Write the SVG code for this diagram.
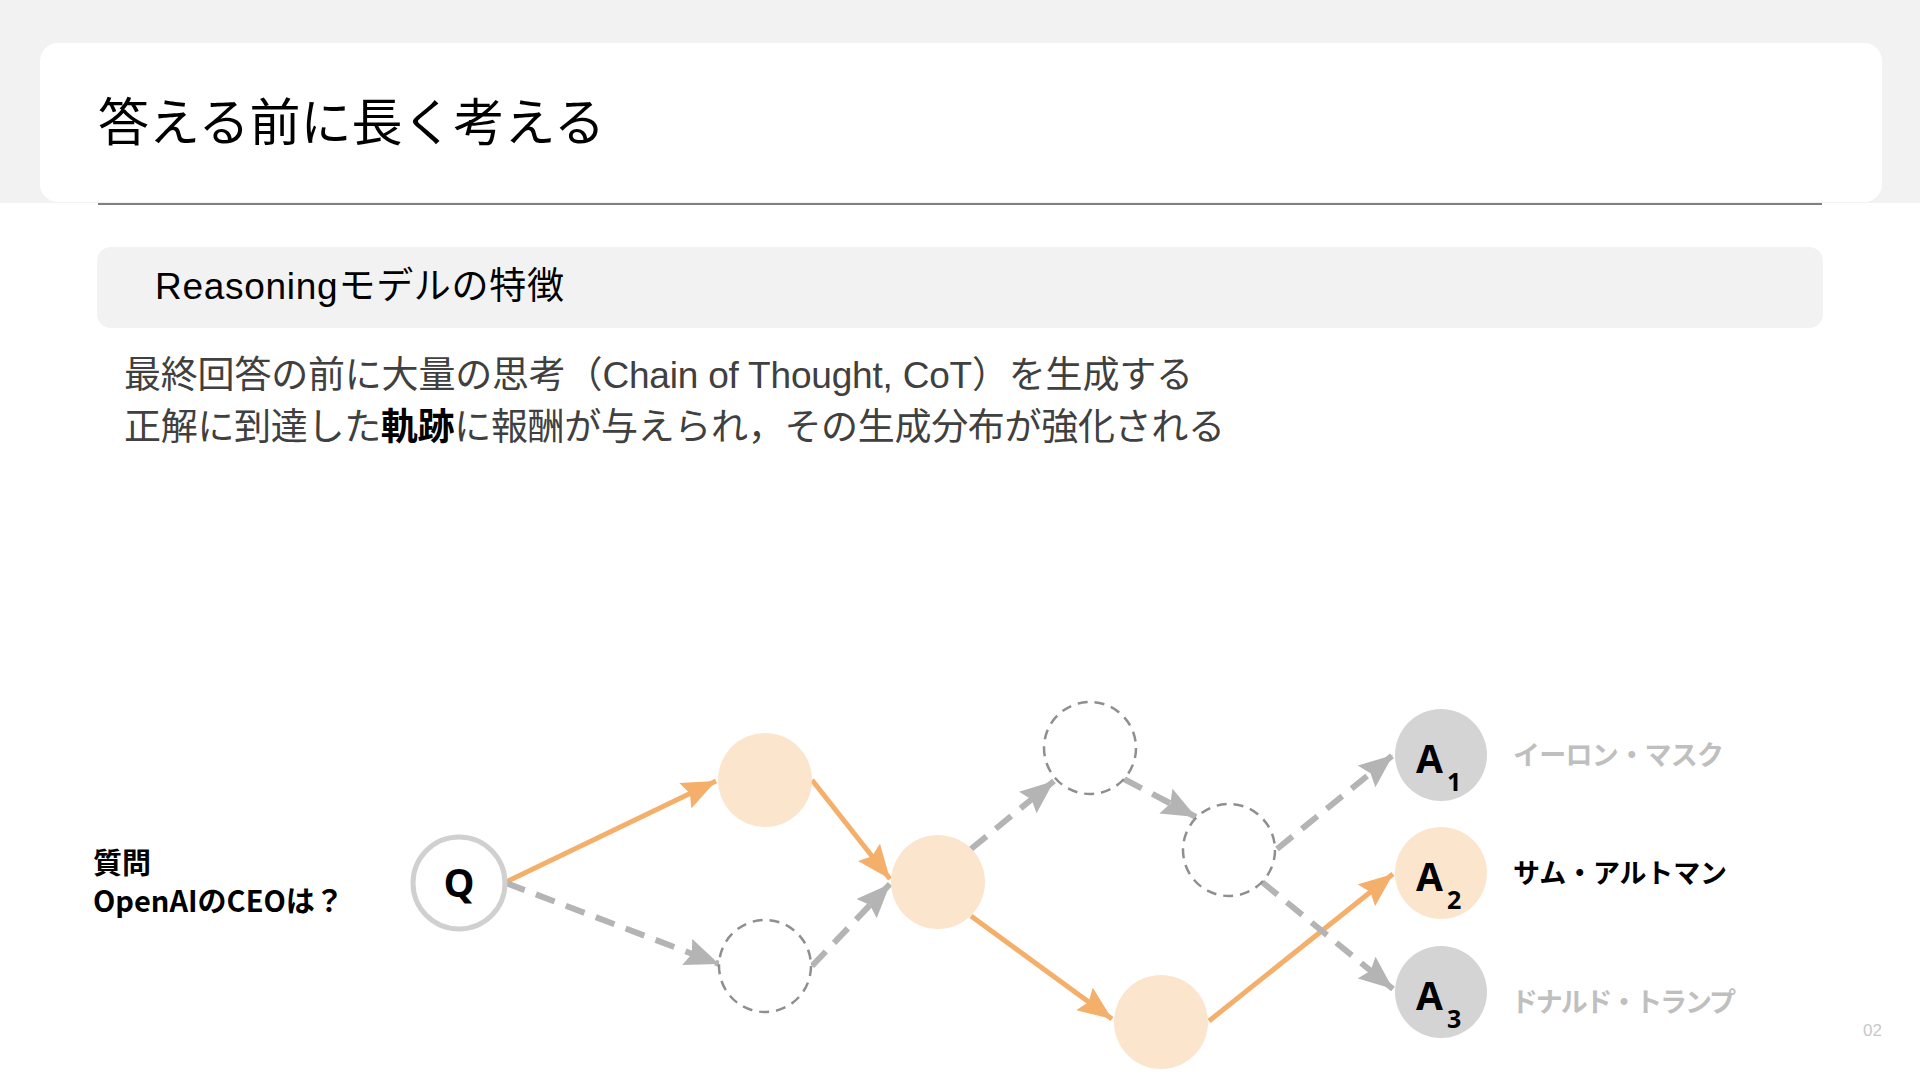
<svg xmlns="http://www.w3.org/2000/svg" width="1920" height="1080" viewBox="0 0 1920 1080">
<defs>
<style>
.jp{font-family:"Liberation Sans","Noto Sans CJK JP",sans-serif;}
.b{font-family:"Noto Sans CJK JP","Noto Sans",sans-serif;font-weight:700;}
.sol{fill:#fce5cd;}
.gry{fill:#d4d4d4;}
.dash{fill:#fff;stroke:#8f8f8f;stroke-width:2.5;stroke-dasharray:10 7;}
.o{stroke:#f4b06b;stroke-width:5;fill:none;marker-end:url(#ao);}
.g{stroke:#b4b4b4;stroke-width:6;fill:none;stroke-dasharray:20 12;marker-end:url(#ag);}
.lbl{font-family:"Open Sans","Noto Sans",sans-serif;font-weight:700;font-size:39px;fill:#000;}
.sub{font-family:"Open Sans","Noto Sans",sans-serif;font-weight:700;font-size:25px;fill:#000;}
</style>
<marker id="ao" viewBox="0 0 34 28" refX="34" refY="14" markerWidth="34" markerHeight="28" markerUnits="userSpaceOnUse" orient="auto">
<path d="M0,0 L34,14 L0,28 L5,14 Z" fill="#f4b06b"/>
</marker>
<marker id="ag" viewBox="0 0 34 28" refX="34" refY="14" markerWidth="34" markerHeight="28" markerUnits="userSpaceOnUse" orient="auto">
<path d="M0,0 L34,14 L0,28 L5,14 Z" fill="#b4b4b4"/>
</marker>
</defs>
<rect x="0" y="0" width="1920" height="1080" fill="#fff"/>
<rect x="0" y="0" width="1920" height="203" fill="#f2f2f2"/>
<g id="title">
<rect x="40" y="43" width="1842" height="159" rx="18" fill="#fff"/>
<text x="98" y="141" class="jp" font-size="51" fill="#000">答える前に長く考える</text>
</g>
<line x1="98" y1="204" x2="1822" y2="204" stroke="#808080" stroke-width="2"/>
<g id="section">
<rect x="97" y="247" width="1726" height="81" rx="14" fill="#f2f2f2"/>
<text x="155" y="299" class="jp" font-size="37" fill="#000" textLength="409" lengthAdjust="spacing">Reasoningモデルの特徴</text>
</g>
<g id="body" class="jp" font-size="37" fill="#404040">
<text x="124" y="388" textLength="1069" lengthAdjust="spacing">最終回答の前に大量の思考（Chain of Thought, CoT）を生成する</text>
<text x="124" y="440" textLength="1101" lengthAdjust="spacing">正解に到達した<tspan font-weight="700" fill="#000">軌跡</tspan>に報酬が与えられ，その生成分布が強化される</text>
</g>
<g id="question" class="b" font-size="29" fill="#000">
<text x="93" y="874">質問</text>
<text x="93" y="912">OpenAIのCEOは？</text>
</g>
<g id="connectors">
<line class="o" x1="506" y1="882" x2="716" y2="781"/>
<line class="o" x1="812" y1="780" x2="890" y2="879"/>
<line class="o" x1="971" y1="916" x2="1112" y2="1019"/>
<line class="o" x1="1209" y1="1021" x2="1393" y2="874"/>
<line class="g" x1="506" y1="883" x2="719" y2="964"/>
<line class="g" x1="812" y1="966" x2="890" y2="884"/>
<line class="g" x1="971" y1="849" x2="1054" y2="781"/>
<line class="g" x1="1124" y1="779" x2="1196" y2="817"/>
<line class="g" x1="1277" y1="849" x2="1393" y2="755"/>
<line class="g" x1="1262" y1="882" x2="1393" y2="989"/>
</g>
<g id="nodeQ">
<circle cx="459" cy="883" r="46" fill="#fff" stroke="#d0d0d0" stroke-width="5"/>
<text x="459" y="897" class="lbl" text-anchor="middle">Q</text>
</g>
<g id="n1"><circle cx="765" cy="780" r="47" class="sol"/></g>
<g id="n2"><circle cx="765" cy="966" r="46" class="dash"/></g>
<g id="n3"><circle cx="938" cy="882" r="47" class="sol"/></g>
<g id="n4"><circle cx="1090" cy="748" r="46" class="dash"/></g>
<g id="n5"><circle cx="1229" cy="850" r="46" class="dash"/></g>
<g id="n6"><circle cx="1161" cy="1022" r="47" class="sol"/></g>
<g id="a1">
<circle cx="1441" cy="755" r="46" class="gry"/>
<text x="1416" y="773" class="lbl">A</text><text x="1447" y="791" class="sub">1</text>
<text x="1513" y="765" class="b" font-size="27" fill="#bfbfbf" textLength="211" lengthAdjust="spacing">イーロン・マスク</text>
</g>
<g id="a2">
<circle cx="1441" cy="873" r="46" class="sol"/>
<text x="1416" y="891" class="lbl">A</text><text x="1447" y="909" class="sub">2</text>
<text x="1513" y="883" class="b" font-size="27" fill="#000" textLength="214" lengthAdjust="spacing">サム・アルトマン</text>
</g>
<g id="a3">
<circle cx="1441" cy="992" r="46" class="gry"/>
<text x="1416" y="1010" class="lbl">A</text><text x="1447" y="1028" class="sub">3</text>
<text x="1511" y="1012" class="b" font-size="27" fill="#bfbfbf" textLength="225" lengthAdjust="spacing">ドナルド・トランプ</text>
</g>
<text x="1882" y="1036" text-anchor="end" font-family="Liberation Sans, sans-serif" font-size="17" fill="#c8c8c8">02</text>
</svg>
